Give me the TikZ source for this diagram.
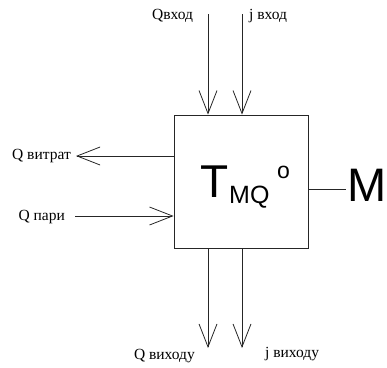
\documentclass[tikz,border=0pt]{standalone}
\usepackage{fontspec}
\setmainfont{Liberation Serif}
\newfontfamily\arialfont{Liberation Sans}
\usetikzlibrary{arrows.meta,positioning}
\definecolor{ink}{HTML}{262626}

\tikzset{
  flow/.style={draw=ink,line width=0.8pt,-{Straight Barb[length=23pt,width=18pt,line width=0.8pt]}},
  plain/.style={draw=ink,line width=0.8pt},
  lab/.style={font=\fontsize{15.5}{16}\selectfont,inner sep=0pt,text=black},
  big/.style={font=\arialfont,inner sep=0pt,anchor=base west,text=black}
}

\begin{document}
\begin{tikzpicture}[x=1pt,y=-1pt]
  \useasboundingbox (0,0) rectangle (387,367);
  % block
  \node[draw=ink,line width=0.8pt,minimum width=134pt,minimum height=133pt,inner sep=0pt] (tmq) at (241,181.5) {};
  \node[big,font=\arialfont\fontsize{46}{46}\selectfont] (tsym) at (200,197) {T};
  \node[big,font=\arialfont\fontsize{25}{25}\selectfont] (tsub) at (229,203) {MQ};
  \node[big,font=\arialfont\fontsize{23}{23}\selectfont] (tsup) at (277,178) {o};
  % output M
  \node[big,font=\arialfont\fontsize{47}{47}\selectfont] (m) at (347,201) {M};
  \coordinate (mline) at (346,189);
  \draw[plain] (tmq.east |- mline) -- (mline);
  % inputs from above
  \coordinate (qin) at (208,14);
  \coordinate (jin) at (242,14);
  \node[lab,anchor=west] (qinl) at (152,16) {Qвход};
  \node[lab,anchor=west] (jinl) at (249,16) {j вход};
  \draw[flow] (qin) -- (qin |- tmq.north);
  \draw[flow] (jin) -- (jin |- tmq.north);
  % left side
  \coordinate (qloss) at (76,156);
  \coordinate (qsteam) at (75,216);
  \node[lab,anchor=east] (qlossl) at (71,156) {Q витрат};
  \node[lab,anchor=east] (qsteaml) at (65,217) {Q пари};
  \draw[flow] (qloss -| tmq.west) -- (qloss);
  \draw[flow] (qsteam) -- (qsteam -| tmq.west);
  % outputs below
  \coordinate (qout) at (208,348);
  \coordinate (jout) at (242,348);
  \node[lab,anchor=east] (qoutl) at (195,356) {Q виходу};
  \node[lab,anchor=west] (joutl) at (265,354) {j виходу};
  \draw[flow] (qout |- tmq.south) -- (qout);
  \draw[flow] (jout |- tmq.south) -- (jout);
\end{tikzpicture}
\end{document}
